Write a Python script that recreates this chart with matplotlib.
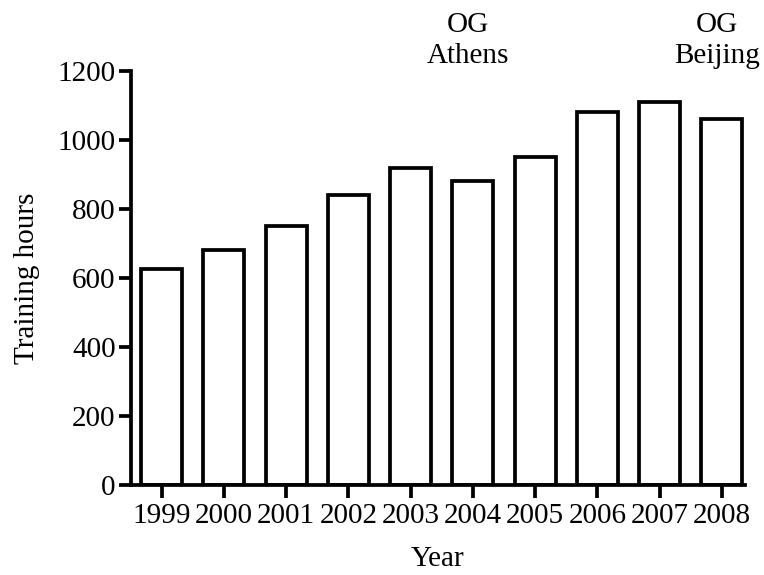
import numpy as np
import matplotlib.pyplot as plt

# training volume per season
years = ['1999', '2000', '2001', '2002', '2003', '2004', '2005', '2006', '2007', '2008']
hours = [625, 680, 750, 840, 920, 880, 950, 1080, 1110, 1060]

# Olympic games markers
og_years = ['2004', '2008']
og_labels = ['OG\nAthens', 'OG\nBeijing']

plt.rcParams['font.family'] = ['Liberation Serif', 'DejaVu Serif']
plt.rcParams['font.size'] = 21

fig = plt.figure(figsize=(7.64, 5.75), dpi=100)
ax = fig.add_axes([0.1715, 0.1565, 0.8035, 0.72])

x = np.arange(len(years))
lw = 2.7
ax.bar(x, hours, width=0.66, color='white', edgecolor='black', linewidth=lw,
       zorder=3)

ax.set_xlim(-0.49, 9.37)
ax.set_ylim(0, 1200)
ax.set_yticks(np.arange(0, 1201, 200))
ax.set_xticks(x)
ax.set_xticklabels(years)

for s in ['top', 'right']:
    ax.spines[s].set_visible(False)
for s in ['left', 'bottom']:
    ax.spines[s].set_linewidth(lw)
    ax.spines[s].set_zorder(4)

ax.tick_params(axis='y', direction='out', length=9, width=lw, pad=2)
ax.tick_params(axis='x', direction='out', length=9, width=lw, pad=4)

ax.set_xlabel('Year', labelpad=12)
ax.set_ylabel('Training hours', labelpad=13)

trans = ax.get_xaxis_transform()
for yr, lab in zip(og_years, og_labels):
    ax.text(years.index(yr) - 0.08, 1.02, lab, transform=trans,
            ha='center', va='baseline', multialignment='center',
            linespacing=1.25)

fig.savefig('out.png', dpi=100)
